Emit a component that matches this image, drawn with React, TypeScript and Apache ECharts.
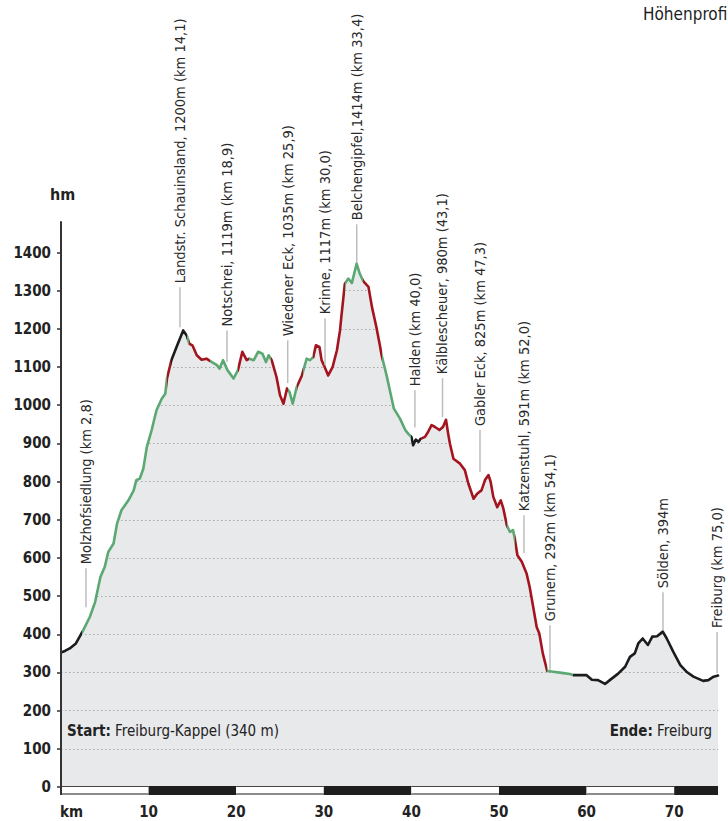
import React, { useEffect, useRef } from "react";
import * as echarts from "echarts";

// Elevation profile (km, m)
const profileKm = [
  0.0, 0.5, 1.0, 1.7, 2.5, 3.3, 3.9, 4.5, 5.0, 5.4, 6.0, 6.4, 6.9, 7.7, 8.3, 8.6, 9.0, 9.4, 9.8, 10.35,
  10.9, 11.5, 11.9, 12.1, 12.6, 13.2, 13.95, 14.35, 14.65, 15.0, 15.5, 16.05, 16.6, 17.0, 17.8, 18.1, 18.5, 19.0, 19.7, 20.2,
  20.7, 21.2, 21.5, 22.0, 22.5, 23.0, 23.4, 23.7, 24.05, 24.6, 25.0, 25.4, 25.8, 26.1, 26.45, 26.9, 27.5, 28.05, 28.4, 28.8,
  29.1, 29.5, 29.75, 30.1, 30.5, 31.0, 31.5, 31.85, 32.0, 32.4, 32.8, 33.2, 33.75, 34.1, 34.5, 35.1, 35.5, 36.0, 36.4, 36.6,
  37.2, 37.7, 38.0, 38.7, 39.3, 39.65, 40.0, 40.2, 40.5, 40.8, 41.05, 41.55, 41.9, 42.3, 42.7, 43.2, 43.6, 43.95, 44.2, 44.4,
  44.8, 45.55, 46.1, 46.5, 47.1, 47.5, 48.0, 48.4, 48.8, 49.05, 49.35, 49.8, 50.2, 50.5, 50.9, 51.25, 51.6, 51.8, 52.1, 52.6,
  53.15, 53.5, 53.9, 54.3, 54.6, 55.0, 55.5, 56.2, 57.15, 58.1, 58.5, 59.25, 60.0, 60.6, 61.3, 62.1, 62.65, 63.6, 64.4, 64.95,
  65.5, 65.9, 66.4, 67.0, 67.5, 68.05, 68.7, 69.15, 69.9, 70.7, 71.4, 72.2, 73.3, 73.9, 74.5, 75.0,
];
const profileElev = [
  352, 357, 363, 376, 409, 446, 485, 550, 577, 616, 638, 690, 725, 751, 777, 804, 808, 834, 891, 935,
  987, 1017, 1030, 1070, 1118, 1153, 1196, 1183, 1161, 1157, 1131, 1119, 1122, 1116, 1105, 1096, 1118, 1092, 1070, 1092,
  1140, 1118, 1122, 1118, 1140, 1135, 1113, 1131, 1118, 1074, 1026, 1004, 1044, 1034, 1004, 1047, 1078, 1122, 1118, 1126,
  1157, 1153, 1118, 1100, 1078, 1100, 1144, 1196, 1231, 1318, 1332, 1320, 1371, 1345, 1325, 1310, 1257, 1205, 1157, 1131,
  1075, 1022, 991, 965, 935, 925, 917, 895, 910, 904, 912, 917, 930, 948, 943, 935, 943, 962, 925, 899,
  860, 847, 830, 795, 755, 768, 777, 804, 817, 799, 760, 733, 751, 729, 685, 668, 673, 651, 607, 590,
  559, 524, 472, 419, 402, 350, 304, 302, 299, 296, 293, 293, 293, 281, 280, 270, 280, 297, 315, 341,
  350, 376, 389, 372, 394, 395, 407, 389, 354, 319, 302, 289, 278, 280, 289, 292,
];

// Gradient classes along the route (start km of each stretch)
const stretchStartKm = [0, 2.4, 12.1, 12.6, 14.35, 14.65, 17.0, 20.2, 21.5, 24.0, 25.9, 27.0, 27.65, 28.8, 32.4, 34.5, 36.6, 40.0, 41.1, 50.9, 51.8, 55.5, 58.5];
const stretchClass = ["flat", "climb", "steep", "flat", "climb", "steep", "climb", "steep", "climb", "steep", "climb", "steep", "climb", "steep", "climb", "steep", "climb", "flat", "steep", "climb", "steep", "climb", "flat"];

// Annotations
const annoText = [
  "Molzhofsiedlung (km 2,8)",
  "Landstr. Schauinsland, 1200m (km 14,1)",
  "Notschrei, 1119m (km 18,9)",
  "Wiedener Eck, 1035m (km 25,9)",
  "Krinne, 1117m (km 30,0)",
  "Belchengipfel,1414m (km 33,4)",
  "Halden (km 40,0)",
  "Kälblescheuer, 980m (43,1)",
  "Gabler Eck, 825m (km 47,3)",
  "Katzenstuhl, 591m (km 52,0)",
  "Grunern, 292m (km 54,1)",
  "Sölden, 394m",
  "Freiburg (km 75,0)",
];
const annoKm = [2.85, 13.58, 18.95, 25.88, 30.14, 33.76, 40.4, 43.55, 47.83, 52.85, 55.82, 68.72, 74.9];
const annoElev = [471, 1204, 1113, 1058, 1105, 1374, 942, 969, 825, 613, 306, 411, 298];
const annoLabelElev = [573, 1309, 1196, 1170, 1228, 1474, 1039, 1071, 935, 712, 424, 510, 406];

const yTicks = [0, 100, 200, 300, 400, 500, 600, 700, 800, 900, 1000, 1100, 1200, 1300, 1400];
const kmBandEdges = [0, 10, 20, 30, 40, 50, 60, 70, 75];

const FONT = "'Liberation Sans Narrow', 'DejaVu Sans Condensed', 'Noto Sans', sans-serif";
const CLASS_COLOR: Record<string, string> = { flat: "#1c1c1c", climb: "#5ba872", steep: "#a3141f" };

export default function App() {
  const ref = useRef<HTMLDivElement>(null);
  useEffect(() => {
    if (!ref.current) return;
    const chart = echarts.init(ref.current, undefined, { renderer: "svg" });
    const pts = profileKm.map((k, i) => [k, profileElev[i]]);
    const pieces = stretchStartKm.map((s, i) => ({
      gte: s,
      lt: i + 1 < stretchStartKm.length ? stretchStartKm[i + 1] : 1000,
      color: CLASS_COLOR[stretchClass[i]],
    }));
    const yBase = { type: "value", min: 0, max: 1480, interval: 100, position: "left" };
    chart.setOption({
      animation: false,
      backgroundColor: "#ffffff",
      grid: { left: 61, right: 10, top: 222, bottom: 34, containLabel: false },
      xAxis: {
        type: "value",
        min: 0,
        max: 75,
        interval: 10,
        axisLine: { show: false },
        axisTick: { show: false },
        splitLine: { show: false },
        axisLabel: {
          margin: 17,
          fontFamily: FONT,
          fontSize: 15,
          fontWeight: "bold",
          color: "#222",
          formatter: (v: number) => (v > 0 && v % 10 === 0 ? String(v) : ""),
        },
      },
      yAxis: [
        {
          ...yBase,
          z: 3,
          axisLine: { show: false },
          axisTick: { show: false },
          axisLabel: { show: false },
          splitLine: {
            show: true,
            showMinLine: false,
            showMaxLine: false,
            lineStyle: { type: [1.5, 2.5], color: "#a9a9a9", width: 1 },
          },
        },
        {
          ...yBase,
          z: 6,
          name: "hm",
          nameLocation: "end",
          nameGap: 20,
          nameTextStyle: { fontFamily: FONT, fontSize: 16, fontWeight: "bold", color: "#222", padding: [0, 0, 0, 3] },
          axisLine: { show: true, lineStyle: { color: "#333", width: 2 } },
          axisTick: { show: true, length: 4, customValues: yTicks, lineStyle: { color: "#333", width: 1.5 } },
          axisLabel: {
            customValues: yTicks,
            margin: 10,
            fontFamily: FONT,
            fontSize: 15,
            fontWeight: "bold",
            color: "#222",
            formatter: (v: number) => (v % 100 === 0 ? String(v) : ""),
          },
          splitLine: { show: false },
        },
      ],
      visualMap: {
        show: false,
        type: "piecewise",
        dimension: 0,
        seriesIndex: 2,
        pieces,
      },
      series: [
        {
          type: "line",
          data: pts,
          z: 1,
          silent: true,
          showSymbol: false,
          lineStyle: { width: 0, opacity: 0 },
          areaStyle: { color: "#e8e9eb", opacity: 1, origin: "start" },
        },
        {
          type: "line",
          data: pts,
          z: 4,
          silent: true,
          showSymbol: false,
          lineStyle: { width: 0, opacity: 0 },
          areaStyle: { color: "#ffffff", opacity: 1, origin: "end" },
        },
        {
          type: "line",
          data: pts,
          z: 5,
          silent: true,
          showSymbol: false,
          lineStyle: { width: 2.6, join: "round", cap: "round" },
        },
      ],
    });

    const px = (k: number, v: number) => chart.convertToPixel({ xAxisIndex: 0, yAxisIndex: 0 }, [k, v]) as number[];
    const graphics: any[] = [];
    const y0 = px(0, 0)[1];
    // km band
    for (let i = 0; i < kmBandEdges.length - 1; i++) {
      const a = px(kmBandEdges[i], 0)[0];
      const b = px(kmBandEdges[i + 1], 0)[0];
      if (i % 2 === 0) {
        graphics.push({ type: "rect", shape: { x: a, y: y0, width: b - a, height: 7 }, style: { fill: "#fff" }, z: 10 });
        graphics.push({ type: "line", shape: { x1: a, y1: y0 + 7, x2: b, y2: y0 + 7 }, style: { stroke: "#8c8c8c", lineWidth: 2 }, z: 10 });
        graphics.push({ type: "line", shape: { x1: a, y1: y0 - 0.5, x2: b, y2: y0 - 0.5 }, style: { stroke: "#444", lineWidth: 1 }, z: 10 });
      } else {
        graphics.push({ type: "rect", shape: { x: a, y: y0 - 1, width: b - a, height: 9 }, style: { fill: "#1e1e1e" }, z: 10 });
      }
    }
    graphics.push({ type: "line", shape: { x1: px(0, 0)[0], y1: y0 - 2, x2: px(0, 0)[0], y2: y0 + 8 }, style: { stroke: "#333", lineWidth: 2 }, z: 11 });
    // km label
    graphics.push({
      type: "text",
      x: px(0, 0)[0] - 1,
      y: y0 + 25,
      style: { text: "km", font: `bold 15px ${FONT}`, fill: "#222", align: "left", verticalAlign: "middle" },
      z: 10,
    });
    // annotations
    annoText.forEach((t, i) => {
      const [x, yb] = px(annoKm[i], annoElev[i]);
      const yt = px(annoKm[i], annoLabelElev[i])[1];
      graphics.push({ type: "line", shape: { x1: x, y1: yb, x2: x, y2: yt }, style: { stroke: "#bdbdbd", lineWidth: 1.5 }, z: 10 });
      graphics.push({
        type: "text",
        x: x,
        y: yt - 4,
        rotation: Math.PI / 2,
        style: { text: t, font: `14.5px ${FONT}`, fill: "#2a2a2a", align: "left", verticalAlign: "middle" },
        z: 10,
      });
    });
    // start / end labels
    const labY = px(0, 150)[1] + 1;
    graphics.push({
      type: "text",
      x: 67,
      y: labY,
      style: {
        text: "{b|Start:} Freiburg-Kappel (340 m)",
        font: `15px ${FONT}`,
        fill: "#222",
        align: "left",
        verticalAlign: "middle",
        rich: { b: { fontFamily: FONT, fontSize: 15, fontWeight: "bold", fill: "#222" } },
      },
      z: 10,
    });
    graphics.push({
      type: "text",
      x: 712,
      y: labY,
      style: {
        text: "{b|Ende:} Freiburg",
        font: `15px ${FONT}`,
        fill: "#222",
        align: "right",
        verticalAlign: "middle",
        rich: { b: { fontFamily: FONT, fontSize: 15, fontWeight: "bold", fill: "#222" } },
      },
      z: 10,
    });
    graphics.push({
      type: "text",
      x: 643,
      y: 14,
      style: { text: "Höhenprofil", font: `17px ${FONT}`, fill: "#1e1e1e", align: "left", verticalAlign: "middle" },
      z: 10,
    });
    chart.setOption({ graphic: graphics });
    return () => chart.dispose();
  }, []);
  return <div ref={ref} style={{ position: "fixed", left: 0, top: 0, width: 728, height: 821 }} />;
}
